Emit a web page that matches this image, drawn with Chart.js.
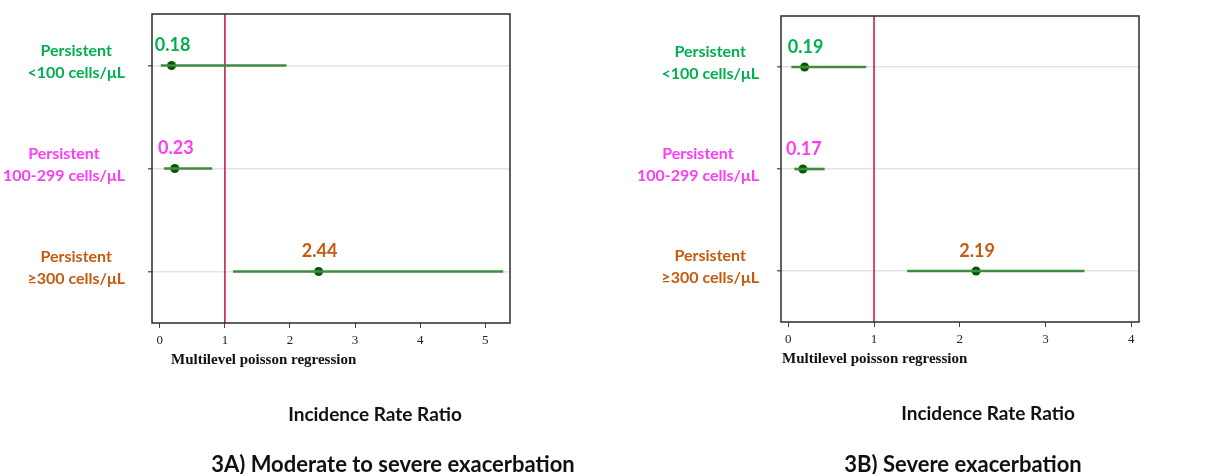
<!DOCTYPE html>
<html>
<head>
<meta charset="utf-8">
<script src="https://cdn.jsdelivr.net/npm/chart.js@4.4.1/dist/chart.umd.min.js"></script>
<style>
  body { margin: 0; background: #fff; }
  #page { position: relative; width: 1230px; height: 474px; overflow: hidden; }
  canvas { position: absolute; top: 0; }
  .txt { position: absolute; white-space: nowrap; line-height: 24px; color: #111; }
  .method { font: bold 15px "Liberation Serif", serif; }
  .xtitle { font: bold 19px Lato, sans-serif; transform: translateX(-50%); }
  .panel { font: bold 22px Lato, sans-serif; transform: translateX(-50%); }
</style>
</head>
<body>
<div id="page">
  <canvas id="chartA" width="615" height="474" style="left:0"></canvas>
  <canvas id="chartB" width="615" height="474" style="left:615px"></canvas>

  <div class="txt method" style="left:171px; top:351px">Multilevel poisson regression</div>
  <div class="txt method" style="left:782px; top:350px">Multilevel poisson regression</div>
  <div class="txt xtitle" style="left:375px; top:402px">Incidence Rate Ratio</div>
  <div class="txt xtitle" style="left:988px; top:401px">Incidence Rate Ratio</div>
  <div class="txt panel" style="left:393px; top:450px">3A) Moderate to severe exacerbation</div>
  <div class="txt panel" style="left:963px; top:450px">3B) Severe exacerbation</div>
</div>

<script>
// eosinophil groups (y axis) and their label colours
const categories = ["Persistent\n<100 cells/μL", "Persistent\n100-299 cells/μL", "Persistent\n≥300 cells/μL"];
const groupColors = ["#00b050", "#ff3cf5", "#c55a11"];

// 3A) moderate to severe exacerbation
const irrModerate = [0.18, 0.23, 2.44];
const lowModerate = [0.02, 0.07, 1.13];
const highModerate = [1.94, 0.80, 5.27];
const ticksModerate = [0, 1, 2, 3, 4, 5];

// 3B) severe exacerbation
const irrSevere = [0.19, 0.17, 2.19];
const lowSevere = [0.04, 0.075, 1.39];
const highSevere = [0.905, 0.42, 3.45];
const ticksSevere = [0, 1, 2, 3, 4];

const nullValue = 1;

// red reference line, frame, value labels and group labels
const forestPlugin = {
  id: "forest",
  beforeDatasetsDraw(chart) {
    const { ctx, chartArea: a, scales: { x } } = chart;
    const px = x.getPixelForValue(nullValue);
    ctx.save();
    ctx.strokeStyle = "#c4002e";
    ctx.lineWidth = 1.4;
    ctx.beginPath();
    ctx.moveTo(px, a.top);
    ctx.lineTo(px, a.bottom);
    ctx.stroke();
    ctx.restore();
  },
  afterDatasetsDraw(chart, args, opts) {
    const { ctx, chartArea: a, scales: { x, y } } = chart;
    ctx.save();
    ctx.strokeStyle = "#2b2b2b";
    ctx.lineWidth = 1.5;
    ctx.strokeRect(a.left, a.top, a.width, a.height);

    ctx.textAlign = "center";
    ctx.textBaseline = "middle";
    opts.values.forEach((v, i) => {
      ctx.font = "bold 18px Lato";
      ctx.fillStyle = groupColors[i];
      ctx.fillText(v.toFixed(2), x.getPixelForValue(v) + 1, y.getPixelForValue(i) - 20);
    });

    ctx.font = "bold 16px Lato";
    categories.forEach((label, i) => {
      const lines = label.split("\n");
      const w = Math.max(...lines.map((l) => ctx.measureText(l).width));
      const cx = a.left - opts.gap - w / 2;
      const cy = y.getPixelForValue(i);
      ctx.fillStyle = groupColors[i];
      ctx.fillText(lines[0], cx, cy - 15);
      ctx.fillText(lines[1], cx, cy + 7);
    });
    ctx.restore();
  }
};

function makeForest(id, est, low, high, ticks, xMin, xMax, yWidth, pad, gap) {
  return new Chart(document.getElementById(id), {
    type: "bar",
    data: {
      labels: categories,
      datasets: [
        {
          type: "bar",
          indexAxis: "y",
          data: low.map((l, i) => [l, high[i]]),
          backgroundColor: "#3f8c3f",
          borderWidth: 0,
          barThickness: 2
        },
        {
          type: "scatter",
          data: est.map((v, i) => ({ x: v, y: categories[i] })),
          pointRadius: 4.5,
          pointBackgroundColor: "#005a00",
          pointBorderColor: "#005a00",
          pointBorderWidth: 0
        }
      ]
    },
    options: {
      responsive: false,
      animation: false,
      layout: { padding: pad },
      plugins: {
        legend: { display: false },
        tooltip: { enabled: false },
        forest: { values: est, gap: gap }
      },
      scales: {
        x: {
          type: "linear",
          position: "bottom",
          offset: false,
          min: xMin,
          max: xMax,
          afterBuildTicks: (s) => { s.ticks = ticks.map((v) => ({ value: v })); },
          afterFit: (s) => { s.height = 40; },
          border: { display: false },
          grid: { offset: false, drawOnChartArea: false, drawTicks: true, tickLength: 5, tickColor: "#444" },
          ticks: {
            font: { family: "'Liberation Serif'", size: 13 },
            color: "#222",
            padding: 5,
            maxRotation: 0,
            autoSkip: false
          }
        },
        y: {
          type: "category",
          labels: categories,
          offset: true,
          afterFit: (s) => { s.width = yWidth; },
          border: { display: false },
          grid: { offset: false, color: "#e2e2e2", lineWidth: 1.5, tickLength: 4, tickColor: "#666" },
          ticks: { display: false }
        }
      }
    },
    plugins: [forestPlugin]
  });
}

makeForest("chartA", irrModerate, lowModerate, highModerate, ticksModerate,
  -0.12, 5.38, 152, { left: 0, right: 105, top: 14, bottom: 111 }, 27);
makeForest("chartB", irrSevere, lowSevere, highSevere, ticksSevere,
  -0.085, 4.09, 166, { left: 0, right: 91, top: 16, bottom: 112 }, 22);
</script>
</body>
</html>
